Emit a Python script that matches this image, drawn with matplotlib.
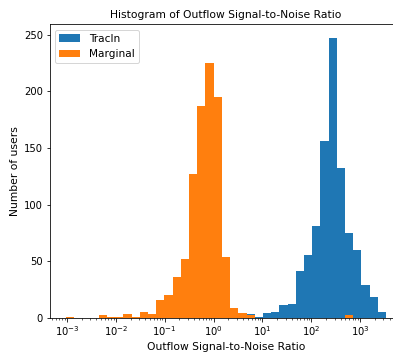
import numpy as np
import matplotlib
matplotlib.use('Agg')
import matplotlib.pyplot as plt

plt.rcParams['font.size'] = 10.8

# shared log-spaced bins (log10 edges)
log_lo = -3.02
log_hi = 3.53
n_bins = 39

# counts per bin
tracin_counts = [0, 0, 0, 0, 0, 0, 0, 0, 0, 0,
                 0, 0, 0, 0, 0, 0, 0, 0, 0, 0,
                 0, 0, 3, 1, 4, 5, 11, 12, 41, 55,
                 81, 156, 247, 132, 75, 60, 29, 18, 5]
marginal_counts = [1, 0, 0, 0, 2, 1, 1, 3, 1, 5,
                   3, 16, 20, 36, 52, 127, 187, 225, 195, 54,
                   9, 4, 2, 0, 0, 0, 0, 0, 0, 0,
                   0, 0, 0, 0, 2, 0, 0, 0, 0]
x_ticks = [1e-3, 1e-2, 1e-1, 1e0, 1e1, 1e2, 1e3]

edges = np.logspace(log_lo, log_hi, n_bins + 1)
centers = np.sqrt(edges[:-1] * edges[1:])

fig = plt.figure(figsize=(393 / 72, 352 / 72), dpi=72)
ax = fig.add_axes([50 / 393, 1 - 317.7 / 352, 352 / 393, 293.4 / 352])

ax.hist(centers, bins=edges, weights=tracin_counts, label='TracIn')
ax.hist(centers, bins=edges, weights=marginal_counts, label='Marginal')
ax.set_xscale('log')
ax.set_xticks(x_ticks)
ax.tick_params(labelsize=10)

ax.set_xlabel('Outflow Signal-to-Noise Ratio')
ax.set_ylabel('Number of users')
ax.set_title('Histogram of Outflow Signal-to-Noise Ratio', fontsize=10.8)
ax.legend(loc='upper left', fontsize=10.5)

plt.savefig('out.png', dpi=72)
plt.close()
